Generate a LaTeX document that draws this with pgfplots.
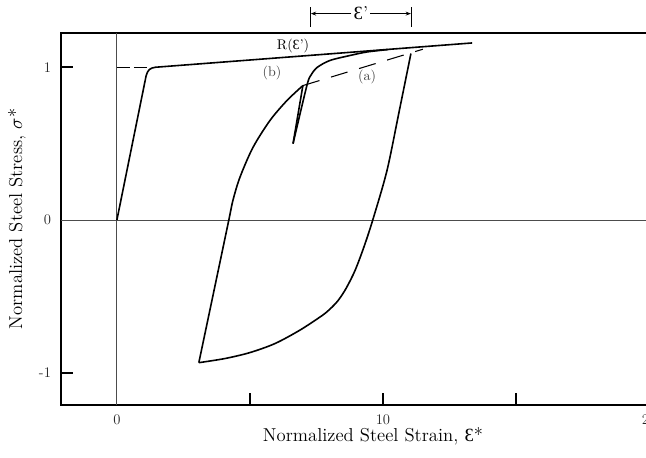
\documentclass[border=0pt]{standalone}
\usepackage{fontspec}
\usepackage{pgfplots}
\pgfplotsset{compat=1.18}
\usetikzlibrary{arrows.meta}
\newfontfamily\libserif{Liberation Serif}
\newcommand{\Eps}{{\libserif Ɛ}}

\begin{document}
\begin{tikzpicture}
\begin{axis}[
  scale only axis,
  width=468pt, height=279.1pt,
  xmin=-2.1, xmax=21.35,
  ymin=-1.21, ymax=1.225,
  axis line style={line width=1.2pt},
  tick align=inside,
  tick pos=left,
  major tick length=9pt,
  tick style={line width=1.2pt, black},
  xtick={5,10,15,20},
  xticklabels={,10,,20},
  extra x ticks={0},
  extra x tick labels={0},
  extra x tick style={major tick length=0pt},
  ytick={-1,1},
  yticklabels={-1,1},
  extra y ticks={0},
  extra y tick labels={0},
  extra y tick style={major tick length=0pt},
  ticklabel style={font=\fontsize{11}{12}\selectfont, black!85},
  xticklabel style={yshift=-4pt},
  yticklabel style={xshift=-4pt},
  xlabel={Normalized Steel Strain, \Eps*},
  ylabel={Normalized Steel Stress, $\sigma$*},
  label style={font=\fontsize{14}{16}\selectfont},
  xlabel style={at={(axis description cs:0.5,0)}, anchor=center, yshift=-23.5pt},
  ylabel style={at={(axis description cs:0,0.5)}, anchor=center, yshift=33pt},
  clip=false,
]
\coordinate (SW) at (rel axis cs:0,0);

% reference lines
\draw[black!70, line width=0.6pt] (axis cs:0,-1.21) -- (axis cs:0,1.225);
\draw[black!70, line width=0.6pt] (axis cs:-2.1,0) -- (axis cs:21.35,0);

% monotonic envelope R
\addplot[black, line width=1.2pt, line join=round] coordinates {
  (0,0) (1.10,0.945) (1.15,0.968) (1.22,0.985) (1.32,0.995) (1.45,1.0) (1.6,1.002) (13.35,1.159)
};
\addplot[black, line width=0.8pt, dash pattern=on 9.75pt off 3pt] coordinates {(0,1) (1.2,1)};

% unloading branch
\addplot[black, line width=1.2pt, smooth] coordinates {
  (11.05,1.090) (10.60,0.704) (10.15,0.324) (9.62,0.003) (9.29,-0.173)
  (8.95,-0.330) (8.61,-0.448) (8.31,-0.527) (8.01,-0.582) (7.71,-0.625)
  (6.88,-0.720) (5.94,-0.808) (5.00,-0.867) (4.06,-0.906) (3.08,-0.933)
};
% reloading branch
\addplot[black, line width=1.2pt, smooth] coordinates {
  (3.08,-0.933) (3.65,-0.461) (4.21,0.003) (4.36,0.128) (4.62,0.278)
  (5.11,0.474) (5.75,0.651) (6.39,0.782) (6.99,0.880)
};
% small unloading
\addplot[black, line width=1.2pt] coordinates {(6.99,0.880) (6.62,0.50)};
% reloading to envelope
\addplot[black, line width=1.2pt, smooth] coordinates {
  (6.62,0.50) (7.14,0.880) (7.30,0.950) (7.52,0.998) (8.0,1.044)
  (8.76,1.077) (9.4,1.100) (10.2,1.116)
};
% path (a)
\addplot[black, line width=0.8pt, dash pattern=on 13pt off 9pt] coordinates {(6.99,0.88) (11.5,1.118)};

\node[font=\fontsize{10.5}{12}\selectfont] at (axis cs:6.62,1.142) {R(\Eps')};
\node[font=\fontsize{10.5}{12}\selectfont, black!75] at (axis cs:5.83,0.965) {(b)};
\node[font=\fontsize{10.5}{12}\selectfont, black!75] at (axis cs:9.4,0.933) {(a)};

% strain increment annotation
\draw[line width=0.6pt] (axis cs:7.29,1.266) -- (axis cs:7.29,1.391);
\draw[line width=0.6pt] (axis cs:11.05,1.266) -- (axis cs:11.05,1.391);
\node[font=\fontsize{14}{16}\selectfont, inner sep=1.5pt] (E) at (axis cs:9.17,1.351) {\Eps'};
\draw[line width=0.6pt, -{Stealth[length=4pt,width=3pt]}] (E.west) -- (axis cs:7.29,1.351);
\draw[line width=0.6pt, -{Stealth[length=4pt,width=3pt]}] (E.east) -- (axis cs:11.05,1.351);
\end{axis}
\pgfresetboundingbox
\path[use as bounding box] ([shift={(-45.75pt,-39pt)}]SW) rectangle ([shift={(438.75pt,303.75pt)}]SW);
\end{tikzpicture}
\end{document}
